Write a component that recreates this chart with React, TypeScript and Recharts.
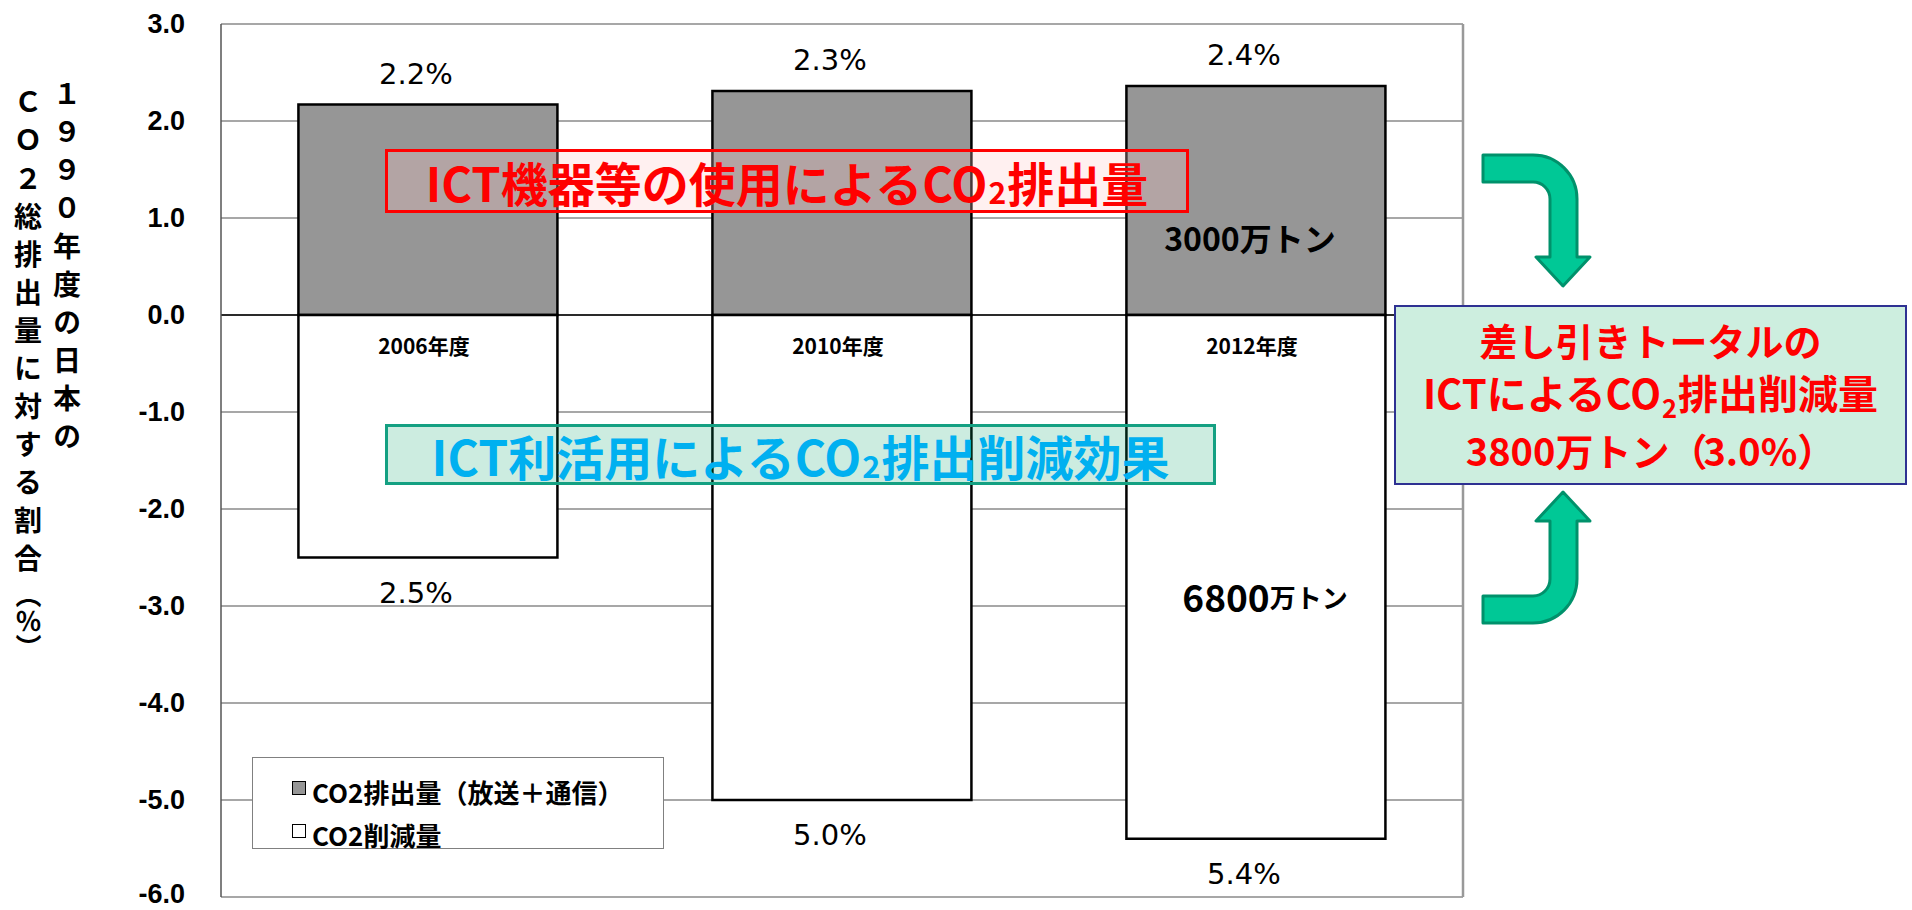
import React from 'react';
import { BarChart, Bar, XAxis, YAxis, CartesianGrid, ReferenceLine, LabelList, Legend } from 'recharts';

const YEARS = ['2006年度', '2010年度', '2012年度'];
const EMISSIONS = [2.17, 2.31, 2.36];
const REDUCTIONS = [-2.5, -5.0, -5.4];
const EMISSION_LABELS = ['2.2%', '2.3%', '2.4%'];
const REDUCTION_LABELS = ['2.5%', '5.0%', '5.4%'];
const Y_TICKS = [3, 2, 1, 0, -1, -2, -3, -4, -5, -6];
const SERIES_NAMES = ['CO2排出量（放送＋通信）', 'CO2削減量'];

const data = YEARS.map((year, i) => ({ year, emission: EMISSIONS[i], reduction: REDUCTIONS[i] }));

const FONT_JP = "'Noto Sans CJK JP', 'Noto Sans', sans-serif";

// bar rect from label props (negative bars may come with a negative height)
const rectOf = (p: any) => {
  const vb = p.viewBox && p.viewBox.width != null ? p.viewBox : p;
  const x = Number(vb.x), y = Number(vb.y), w = Number(vb.width), h = Number(vb.height);
  return { cx: x + w / 2, top: Math.min(y, y + h), bottom: Math.max(y, y + h) };
};

const renderTopLabel = (p: any) => {
  const { cx, top } = rectOf(p);
  return (
    <text x={cx - 12} y={top - 31} textAnchor="middle" dominantBaseline="central" fontSize={29} fontFamily="'DejaVu Sans', sans-serif" fill="#000">
      {EMISSION_LABELS[p.index]}
    </text>
  );
};

const renderBottomLabel = (p: any) => {
  const { cx, bottom } = rectOf(p);
  return (
    <text x={cx - 12} y={bottom + 35} textAnchor="middle" dominantBaseline="central" fontSize={29} fontFamily="'DejaVu Sans', sans-serif" fill="#000">
      {REDUCTION_LABELS[p.index]}
    </text>
  );
};

const renderCategory = (p: any) => {
  const { cx, top } = rectOf(p);
  return (
    <text x={cx - 4} y={top + 30} textAnchor="middle" dominantBaseline="central" fontSize={21} fontWeight={700} fontFamily={FONT_JP} fill="#000">
      {YEARS[p.index]}
    </text>
  );
};

const YTick = (p: any) => {
  const y = Math.min(Number(p.y), 894);
  return (
    <text x={p.x} y={y} textAnchor="end" dominantBaseline="central" fontSize={27} fontWeight={700} fill="#000" fontFamily="'Liberation Sans', Arial, sans-serif">
      {Number(p.payload.value).toFixed(1)}
    </text>
  );
};

const renderLegend = (props: any) => {
  const payload = [...(props.payload || [])].sort(
    (a: any, b: any) => SERIES_NAMES.indexOf(a.value) - SERIES_NAMES.indexOf(b.value)
  );
  return (
    <div style={{ width: 412, height: 92, boxSizing: 'border-box', border: '1.5px solid #808080', background: '#fff', paddingTop: 12, paddingLeft: 39 }}>
      {payload.map((item: any, i: number) => (
        <div key={i} style={{ display: 'flex', alignItems: 'center', height: 43 }}>
          <span style={{ width: 12, height: 12, border: '1.5px solid #000', background: item.payload?.fill || item.color, marginRight: 6, marginBottom: 8 }} />
          <span style={{ fontFamily: FONT_JP, fontWeight: 700, fontSize: 26, color: '#000', lineHeight: 1 }}>{item.value}</span>
        </div>
      ))}
    </div>
  );
};

const Sub2 = () => <span style={{ fontSize: '0.64em', position: 'relative', top: '0.34em', margin: '0 1px' }}>2</span>;

const ARROW =
  'M1483 155 L1533 155 A44 44 0 0 1 1577 199 L1577 257 L1590 257 L1563 286 L1536 257 L1550 257 L1550 199 A17 17 0 0 0 1533 182 L1483 182 Z';

export default function App() {
  return (
    <div style={{ position: 'absolute', left: 0, top: 0, width: 1912, height: 910, background: '#fff', overflow: 'hidden' }}>
      <BarChart
        width={1912}
        height={910}
        data={data}
        margin={{ top: 24, right: 448, bottom: 13, left: 0 }}
        stackOffset="sign"
        barCategoryGap="18.7%"
      >
        <CartesianGrid vertical={false} stroke="#8a8a8a" strokeWidth={1.5} />
        <XAxis dataKey="year" hide />
        <YAxis
          domain={[-6, 3]}
          ticks={Y_TICKS}
          interval={0}
          width={221}
          tickSize={0}
          tickMargin={36}
          tickLine={false}
          axisLine={{ stroke: '#555', strokeWidth: 1.5 }}
          tick={<YTick />}
        />
        <YAxis
          yAxisId="r"
          orientation="right"
          domain={[-6, 3]}
          width={1}
          tick={false}
          tickLine={false}
          axisLine={{ stroke: '#999', strokeWidth: 2.5 }}
        />
        <ReferenceLine y={0} stroke="#000" strokeWidth={1.5} />
        <Legend
          layout="vertical"
          align="center"
          verticalAlign="middle"
          content={renderLegend}
          wrapperStyle={{ left: 252, top: 757, width: 412, height: 92 }}
        />
        <Bar dataKey="emission" name={SERIES_NAMES[0]} stackId="a" fill="#969696" stroke="#000" strokeWidth={2.5} isAnimationActive={false}>
          <LabelList dataKey="emission" content={renderTopLabel} />
        </Bar>
        <Bar dataKey="reduction" name={SERIES_NAMES[1]} stackId="a" fill="#ffffff" stroke="#000" strokeWidth={2.5} isAnimationActive={false}>
          <LabelList dataKey="reduction" content={renderBottomLabel} />
          <LabelList dataKey="year" content={renderCategory} />
        </Bar>
      </BarChart>

      {/* y axis title, two vertical columns */}
      <div style={{ position: 'absolute', left: 53, top: 80, writingMode: 'vertical-rl', textOrientation: 'upright', fontFamily: FONT_JP, fontWeight: 700, fontSize: 28, letterSpacing: 10, color: '#000', lineHeight: '28px' }}>
        １９９０年度の日本の
      </div>
      <div style={{ position: 'absolute', left: 14, top: 88, writingMode: 'vertical-rl', textOrientation: 'upright', fontFamily: FONT_JP, fontWeight: 700, fontSize: 28, letterSpacing: 10, color: '#000', lineHeight: '28px' }}>
        ＣＯ２総排出量に対する割合<span style={{ letterSpacing: 0, fontSize: 26 }}>（％）</span>
      </div>

      {/* annotation boxes */}
      <div style={{ position: 'absolute', left: 385, top: 149, width: 804, height: 64, boxSizing: 'border-box', border: '3px solid #ff0000', background: 'rgba(255,200,200,0.28)', display: 'flex', alignItems: 'center', justifyContent: 'center', fontFamily: FONT_JP, fontWeight: 700, fontSize: 47, color: '#ff0000', lineHeight: 1, whiteSpace: 'nowrap' }}>
        ICT機器等の使用によるCO<Sub2 />排出量
      </div>
      <div style={{ position: 'absolute', left: 385, top: 424, width: 831, height: 61, boxSizing: 'border-box', border: '3px solid #14a082', background: 'rgba(0,160,100,0.2)', display: 'flex', alignItems: 'center', justifyContent: 'center', fontFamily: FONT_JP, fontWeight: 700, fontSize: 48, color: '#00b0f0', lineHeight: 1, whiteSpace: 'nowrap' }}>
        ICT利活用によるCO<Sub2 />排出削減効果
      </div>
      <div style={{ position: 'absolute', left: 1394, top: 305, width: 513, height: 180, boxSizing: 'border-box', border: '2.5px solid #2e3192', background: '#cdeedf', display: 'flex', flexDirection: 'column', alignItems: 'center', justifyContent: 'center', fontFamily: FONT_JP, fontWeight: 700, fontSize: 38, color: '#ff0000', lineHeight: '52px', whiteSpace: 'nowrap' }}>
        <div>差し引きトータルの</div>
        <div style={{ fontSize: 40 }}>ICTによるCO<Sub2 />排出削減量</div>
        <div>3800万トン<span style={{ letterSpacing: -4 }}>（</span>3.0%）</div>
      </div>

      {/* curved arrows and in-bar notes */}
      <svg width={1912} height={910} style={{ position: 'absolute', left: 0, top: 0, pointerEvents: 'none' }}>
        <path d={ARROW} fill="#00c896" stroke="#00916b" strokeWidth={3} strokeLinejoin="round" />
        <g transform="matrix(1 0 0 -1 0 778)">
          <path d={ARROW} fill="#00c896" stroke="#00916b" strokeWidth={3} strokeLinejoin="round" />
        </g>
        <text x={1250} y={237} textAnchor="middle" dominantBaseline="central" fontFamily={FONT_JP} fontWeight={700} fontSize={32} fill="#000">
          3000万トン
        </text>
        <text x={1265} y={596} textAnchor="middle" dominantBaseline="central" fontFamily={FONT_JP} fontWeight={700} fill="#000">
          <tspan fontSize={37}>6800</tspan>
          <tspan fontSize={26}>万トン</tspan>
        </text>
      </svg>
    </div>
  );
}
